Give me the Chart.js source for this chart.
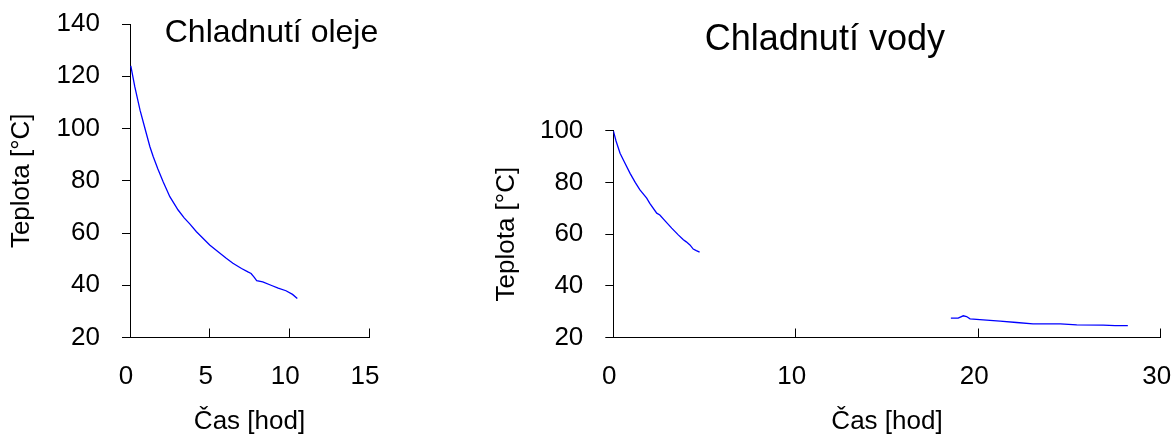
<!DOCTYPE html>
<html>
<head>
<meta charset="utf-8">
<script src="https://cdn.jsdelivr.net/npm/chart.js@4.4.1/dist/chart.umd.min.js"></script>
<style>
  html, body { margin: 0; padding: 0; background: #fff; }
  body { width: 1173px; height: 439px; position: relative; overflow: hidden; }
  .box { position: absolute; top: 0; height: 439px; }
  #olejBox { left: 0; width: 480px; }
  #vodaBox { left: 489px; width: 684px; }
</style>
</head>
<body>
<div class="box" id="olejBox"><canvas id="olejChart"></canvas></div>
<div class="box" id="vodaBox"><canvas id="vodaChart"></canvas></div>
<script>
// oil cooling (hours, deg C)
const olejCas = [0.05, 0.3, 0.63, 0.94, 1.25, 1.46, 1.75, 2.08, 2.5, 3.02, 3.4, 3.75, 4.17, 4.5, 5.0,
  5.45, 6.04, 6.46, 7.0, 7.4, 7.6, 7.8, 7.95, 8.33, 8.85, 9.3, 9.79, 10.2, 10.5];
const olejTeplota = [124, 116, 107, 100, 93, 89.2, 84.5, 79.6, 73.9, 68.8, 65.8, 63.5, 60.5, 58.5, 55.4,
  53.2, 50.3, 48.4, 46.4, 45.1, 44.5, 43.0, 41.8, 41.3, 40.0, 38.9, 37.9, 36.5, 34.9];

// water cooling - two measured segments with a gap between them
const vodaCas1 = [0, 0.15, 0.37, 0.6, 0.92, 1.2, 1.46, 1.83, 2.0, 2.38, 2.55, 2.85, 3.2, 3.56, 3.84,
  4.0, 4.2, 4.38, 4.55, 4.73];
const vodaTeplota1 = [100, 96, 91.3, 88, 83.5, 80, 77.1, 73.9, 71.9, 68.1, 67.4, 65, 62.3, 59.7, 57.8,
  57.0, 55.8, 54.2, 53.6, 53.0];
const vodaCas2 = [18.5, 18.9, 19.18, 19.36, 19.55, 20.27, 21.2, 22.1, 23.0, 24.5, 25.4, 26.85, 27.5, 28.2];
const vodaTeplota2 = [27.5, 27.5, 28.4, 28.1, 27.2, 26.8, 26.3, 25.8, 25.3, 25.3, 24.9, 24.8, 24.6, 24.6];

const fontFamily = "'Liberation Sans', Arial, Helvetica, sans-serif";
Chart.defaults.font.family = fontFamily;
Chart.defaults.color = '#000';

function pts(xs, ys) {
  return xs.map((x, i) => ({ x: x, y: ys[i] }));
}

function line(xs, ys) {
  return { data: pts(xs, ys), borderColor: '#0000ff', borderWidth: 1.3, pointRadius: 0, tension: 0, fill: false };
}

// force the axis box to a fixed size so the plot area lands where it should
function fixSize(prop, val) {
  return (scale) => {
    scale[prop] = val;
    scale.paddingLeft = scale.paddingRight = scale.paddingTop = scale.paddingBottom = 0;
  };
}

function xAxis(min, max, step, height) {
  return {
    type: 'linear', min: min, max: max,
    ticks: { stepSize: step, padding: 32.8, labelOffset: -4, maxRotation: 0, font: { size: 26 }, color: '#000' },
    grid: { drawOnChartArea: false, drawTicks: true, tickLength: -9, color: '#000', lineWidth: 1 },
    border: { display: true, color: '#000', width: 1 },
    title: { display: true, text: 'Čas [hod]', font: { size: 26 }, color: '#000', padding: { top: 0, bottom: 1.4 } },
    afterFit: fixSize('height', height)
  };
}

function yAxis(min, max, step, width, titlePad) {
  return {
    type: 'linear', min: min, max: max,
    ticks: { stepSize: step, padding: 22, font: { size: 26 }, color: '#000' },
    grid: { drawOnChartArea: false, drawTicks: true, tickLength: 8, color: '#000', lineWidth: 1 },
    border: { display: true, color: '#000', width: 1 },
    title: { display: true, text: 'Teplota [°C]', font: { size: 26 }, color: '#000', padding: { top: titlePad, bottom: 0 } },
    afterFit: fixSize('width', width)
  };
}

// title that sits inside the plot area (oil chart)
const cornerTitle = {
  id: 'cornerTitle',
  afterDraw(chart, args, opts) {
    const ctx = chart.ctx;
    ctx.save();
    ctx.font = opts.size + 'px ' + fontFamily;
    ctx.fillStyle = '#000';
    ctx.textAlign = 'center';
    ctx.textBaseline = 'alphabetic';
    ctx.fillText(opts.text, opts.x, opts.y);
    ctx.restore();
  }
};

new Chart(document.getElementById('olejChart'), {
  type: 'line',
  data: { datasets: [line(olejCas, olejTeplota)] },
  options: {
    responsive: true,
    maintainAspectRatio: false,
    animation: false,
    layout: { padding: { top: 24, right: 111, bottom: 0, left: 0 } },
    plugins: {
      legend: { display: false },
      tooltip: { enabled: false },
      cornerTitle: { text: 'Chladnutí oleje', x: 271.5, y: 42, size: 32 }
    },
    scales: {
      x: xAxis(0, 15, 5, 101.5),
      y: yAxis(20, 140, 20, 130, 6.6)
    }
  },
  plugins: [cornerTitle]
});

new Chart(document.getElementById('vodaChart'), {
  type: 'line',
  data: { datasets: [line(vodaCas1, vodaTeplota1), line(vodaCas2, vodaTeplota2)] },
  options: {
    responsive: true,
    maintainAspectRatio: false,
    animation: false,
    layout: { padding: { top: 0, right: 12.3, bottom: 0, left: 0 } },
    plugins: {
      legend: { display: false },
      tooltip: { enabled: false },
      title: {
        display: true,
        text: 'Chladnutí vody',
        color: '#000',
        font: { size: 36, weight: 'normal' },
        padding: { top: 18.6, bottom: 68.9 }
      }
    },
    scales: {
      x: xAxis(0, 30, 10, 101.5),
      y: yAxis(20, 100, 20, 124.3, 2.6)
    }
  }
});
</script>
</body>
</html>
